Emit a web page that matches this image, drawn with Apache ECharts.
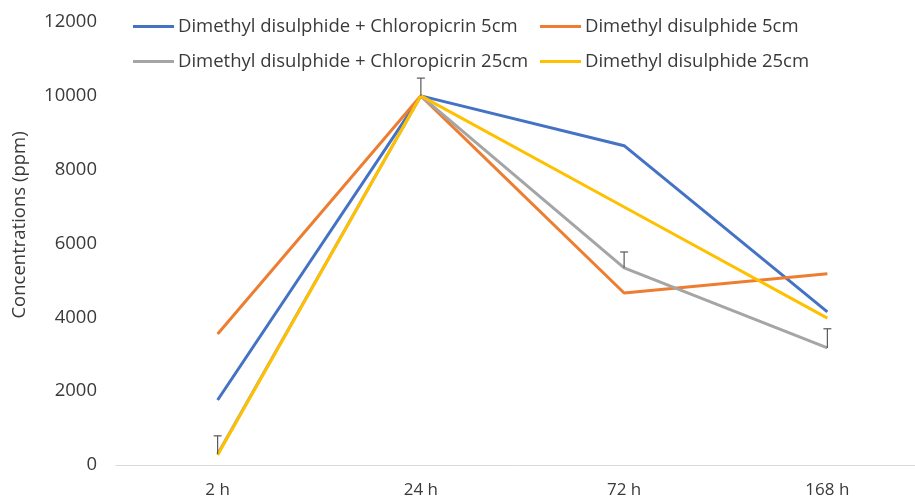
<!DOCTYPE html>
<html>
<head>
<meta charset="utf-8">
<script src="https://cdn.jsdelivr.net/npm/echarts@6/dist/echarts.min.js"></script>
<style>
  html, body { margin: 0; padding: 0; background: #fff; }
  #chart { width: 915px; height: 502px; }
</style>
</head>
<body>
<div id="chart"></div>
<script>
// Sampling times
const categories = ['2 h', '24 h', '72 h', '168 h'];

// Concentrations (ppm) per treatment and depth
const dmdsPic5 = [1760, 10000, 8650, 4150];
const dmds5 = [3550, 10000, 4660, 5180];
const dmdsPic25 = [300, 10000, 5340, 3170];
const dmds25 = [270, 10000, 6990, 3980];

// Upper error bar ends for the DMDS + Chloropicrin 25cm series
const dmdsPic25ErrTop = [790, 10480, 5770, 3690];

const yTicks = [0, 2000, 4000, 6000, 8000, 10000, 12000];

const FONT = '"Open Sans", sans-serif';
const TEXT = '#3a3a3a';
const names = [
  'Dimethyl disulphide + Chloropicrin 5cm',
  'Dimethyl disulphide 5cm',
  'Dimethyl disulphide + Chloropicrin 25cm',
  'Dimethyl disulphide 25cm'
];
const colors = ['#4472C4', '#ED7D31', '#A5A5A5', '#FFC000'];
const values = [dmdsPic5, dmds5, dmdsPic25, dmds25];

const lineSeries = values.map((v, i) => ({
  name: names[i],
  type: 'line',
  data: v,
  symbol: 'none',
  lineStyle: { color: colors[i], width: 3 },
  itemStyle: { color: colors[i] },
  z: 2 + i
}));

// Error bars drawn as a "T": stem from value to upper end, with a cap
const errorSeries = {
  type: 'custom',
  name: 'err',
  z: 10,
  data: dmdsPic25.map((v, i) => [i, v, dmdsPic25ErrTop[i]]),
  renderItem: function (params, api) {
    const lo = api.coord([api.value(0), api.value(1)]);
    const hi = api.coord([api.value(0), api.value(2)]);
    const half = 4;
    const style = { stroke: '#595959', lineWidth: 1.2 };
    return {
      type: 'group',
      children: [
        { type: 'line', shape: { x1: lo[0], y1: lo[1], x2: hi[0], y2: hi[1] }, style: style },
        { type: 'line', shape: { x1: hi[0] - half, y1: hi[1], x2: hi[0] + half, y2: hi[1] }, style: style }
      ]
    };
  }
};

const legendBase = {
  orient: 'vertical',
  icon: 'rect',
  itemWidth: 41,
  itemHeight: 3,
  itemGap: 16,
  top: 12,
  textStyle: { fontFamily: FONT, fontSize: 18.5, color: TEXT, padding: [0, 0, 0, -1] }
};

const chart = echarts.init(document.getElementById('chart'), null, { renderer: 'canvas' });
chart.setOption({
  backgroundColor: '#fff',
  animation: false,
  legend: [
    Object.assign({}, legendBase, { left: 128, data: [names[0], names[2]] }),
    Object.assign({}, legendBase, { left: 535, data: [names[1], names[3]] })
  ],
  graphic: [{
    type: 'text',
    x: 20,
    y: 225,
    rotation: Math.PI / 2,
    style: {
      text: 'Concentrations (ppm)',
      font: '18.5px "Open Sans", sans-serif',
      fill: TEXT,
      align: 'center',
      verticalAlign: 'middle'
    }
  }],
  grid: { left: 116, width: 813, top: 22, bottom: 37, containLabel: false, outerBoundsMode: 'none' },
  xAxis: {
    type: 'category',
    data: categories,
    boundaryGap: true,
    axisLine: { show: true, lineStyle: { color: '#D9D9D9', width: 1 } },
    axisTick: { show: false },
    axisLabel: { fontFamily: FONT, fontSize: 17, color: TEXT, margin: 17 }
  },
  yAxis: {
    type: 'value',
    min: yTicks[0],
    max: yTicks[yTicks.length - 1],
    interval: 2000,
    axisLine: { show: false },
    axisTick: { show: false },
    splitLine: { show: false },
    axisLabel: {
      fontFamily: FONT, fontSize: 18.5, color: TEXT, margin: 19,
      formatter: function (v) { return String(v); }
    }
  },
  series: lineSeries.concat([errorSeries])
});
</script>
</body>
</html>
